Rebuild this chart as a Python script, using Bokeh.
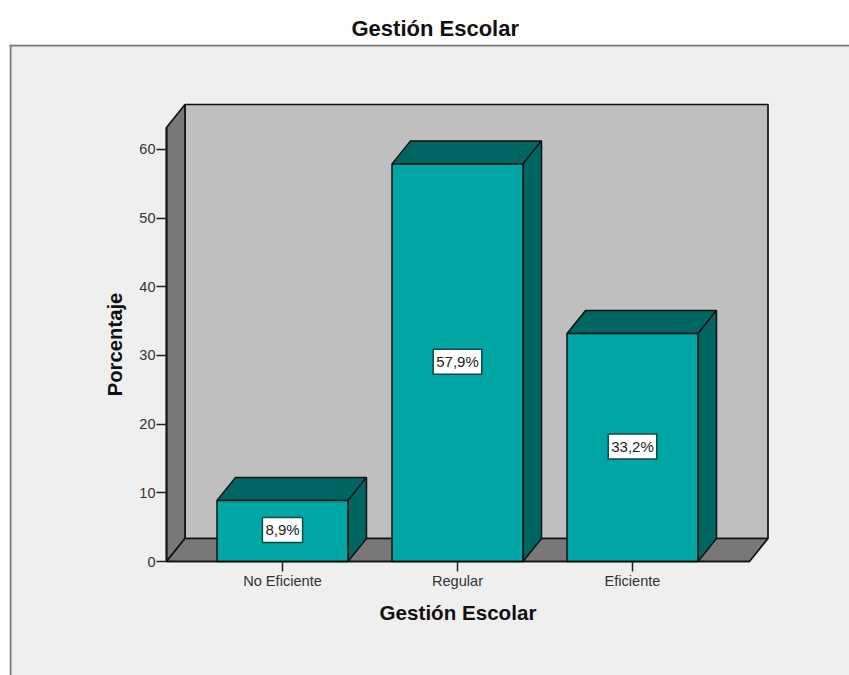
from bokeh.plotting import figure
from bokeh.models import Range1d, FixedTicker
from bokeh.core.properties import value
from bokeh.embed import file_html
from bokeh.resources import INLINE

categories = ["No Eficiente", "Regular", "Eficiente"]
percentages = [8.9, 57.9, 33.2]
bar_labels = ["8,9%", "57,9%", "33,2%"]
y_ticks = [0, 10, 20, 30, 40, 50, 60]

FONT = "Liberation Sans"
PXX = 175.0      # px per category
PXY = 6.867      # px per percent
X0, Y0 = 282.0, 561.0   # page px of category 0 / value 0
L, R, T, B = 9, 849, 44, 675   # frame edges in page px
DX, DY = 18.5 / PXX, 23 / PXY    # depth of the 3D box
HALF = 65.5 / PXX
AX_L, AX_R = (166 - X0) / PXX, (749 - X0) / PXX
AX_T = (561 - 127) / PXY

p = figure(
    width=849, height=675, output_backend="svg", toolbar_location=None,
    x_range=Range1d((L - X0) / PXX, (R - X0) / PXX),
    y_range=Range1d((Y0 - B) / PXY, (Y0 - T) / PXY),
    min_border_left=L, min_border_right=0, min_border_bottom=0, min_border_top=T,
    frame_width=R - L, frame_height=B - T,
    title="Gestión Escolar",
)
p.background_fill_color = "#efefef"
p.border_fill_color = "#ffffff"
p.outline_line_color = None
p.grid.visible = False

t = p.title
t.text_font = FONT
t.text_font_size = "22px"
t.text_font_style = "bold"
t.text_color = "#111111"
t.align = "left"
t.offset = 342
t.standoff = 8

# panel edge
p.line([(10 - X0) / PXX] * 2, [(Y0 - T) / PXY, (Y0 - B) / PXY], line_color="#7a7a7a", line_width=2)
p.line([(L - X0) / PXX, (R - X0) / PXX], [(Y0 - 45) / PXY] * 2, line_color="#7a7a7a", line_width=2)

# 3D box
EDGE = "#111111"
p.patch([AX_L + DX, AX_R + DX, AX_R + DX, AX_L + DX], [DY, DY, AX_T + DY, AX_T + DY],
        fill_color="#bfbfbf", line_color=EDGE, line_width=1.7)
p.patch([AX_L, AX_L + DX, AX_L + DX, AX_L], [0, DY, AX_T + DY, AX_T],
        fill_color="#787878", line_color=EDGE, line_width=1.7)
p.patch([AX_L, AX_L + DX, AX_R + DX, AX_R], [0, DY, DY, 0],
        fill_color="#787878", line_color=EDGE, line_width=1.7)

# bars
xs = list(range(len(categories)))
for x, v in zip(xs, percentages):
    p.patch([x - HALF, x - HALF + DX, x + HALF + DX, x + HALF], [v, v + DY, v + DY, v],
            fill_color="#006663", line_color=EDGE, line_width=1.5)
    p.patch([x + HALF, x + HALF + DX, x + HALF + DX, x + HALF], [0, DY, v + DY, v],
            fill_color="#006663", line_color=EDGE, line_width=1.5)
p.quad(left=[x - HALF for x in xs], right=[x + HALF for x in xs],
       bottom=0, top=percentages, fill_color="#00a6a3", line_color=EDGE, line_width=1.5)

p.text(x=xs, y=[v / 2 for v in percentages], text=bar_labels,
       text_font=value(FONT), text_font_size="15px", text_color="#222222",
       text_align="center", text_baseline="middle", y_offset=-1,
       background_fill_color="#ffffff", border_line_color="#104a48", border_line_width=1.5,
       padding=(3, 4))

# axes
ya = p.yaxis[0]
ya.fixed_location = AX_L
ya.bounds = (0, AX_T)
ya.ticker = FixedTicker(ticks=y_ticks)
ya.minor_tick_line_color = None
ya.major_tick_in = 0
ya.major_tick_out = 10
ya.major_tick_line_color = "#222222"
ya.major_tick_line_width = 1.5
ya.axis_line_color = "#111111"
ya.axis_line_width = 1.7
ya.major_label_text_font = FONT
ya.major_label_text_font_size = "14.5px"
ya.major_label_text_color = "#333333"
ya.major_label_standoff = 1
ya.axis_label = "Porcentaje"
ya.axis_label_text_font = FONT
ya.axis_label_text_font_size = "20.3px"
ya.axis_label_text_font_style = "bold"
ya.axis_label_text_color = "#111111"
ya.axis_label_standoff = 10

xa = p.xaxis[0]
xa.fixed_location = 0
xa.bounds = (AX_L, AX_R)
xa.ticker = FixedTicker(ticks=xs)
xa.major_label_overrides = dict(zip(xs, categories))
xa.minor_tick_line_color = None
xa.major_tick_in = 0
xa.major_tick_out = 10
xa.major_tick_line_color = "#222222"
xa.major_tick_line_width = 1.5
xa.axis_line_color = "#111111"
xa.axis_line_width = 1.7
xa.major_label_text_font = FONT
xa.major_label_text_font_size = "14.6px"
xa.major_label_text_color = "#333333"
xa.major_label_standoff = 1
xa.axis_label = "Gestión Escolar"
xa.axis_label_text_font = FONT
xa.axis_label_text_font_size = "20.6px"
xa.axis_label_text_font_style = "bold"
xa.axis_label_text_color = "#111111"
xa.axis_label_standoff = 9

open("out.html", "w").write(file_html(p, INLINE))
